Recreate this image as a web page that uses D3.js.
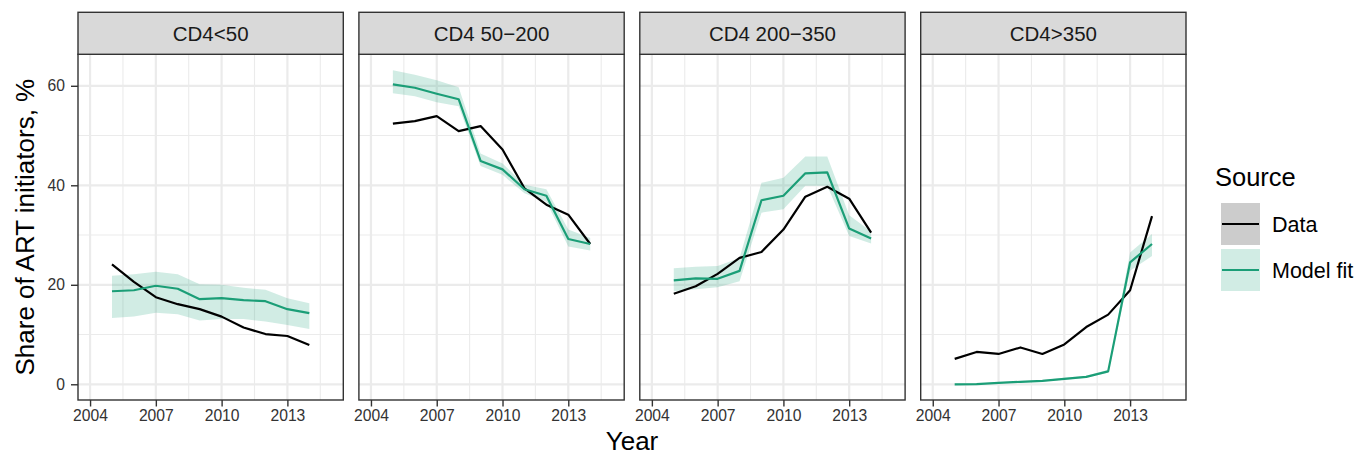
<!DOCTYPE html>
<html>
<head>
<meta charset="utf-8">
<script src="https://cdn.jsdelivr.net/npm/d3@7"></script>
<style>
  html, body { margin: 0; padding: 0; background: #ffffff; }
  svg { display: block; font-family: "Liberation Sans", Arial, sans-serif; }
</style>
</head>
<body>
<svg id="chart" width="1359" height="457"></svg>
<script>
// Share of ART initiators by CD4 category, observed data vs model fit (with uncertainty band)
const years = [2005, 2006, 2007, 2008, 2009, 2010, 2011, 2012, 2013, 2014];
const panelNames = ["CD4<50", "CD4 50\u2212200", "CD4 200\u2212350", "CD4>350"];
const xTicks = [2004, 2007, 2010, 2013];
const xMinor = [2005.5, 2008.5, 2011.5, 2014.5];
const yTicks = [0, 20, 40, 60];
const yMinor = [10, 30, 50];

// Observed share (%)
const dataLt50    = [24.1, 20.6, 17.5, 16.1, 15.1, 13.6, 11.4, 10.1, 9.7, 7.9];
const data50_200  = [52.4, 52.9, 53.9, 50.9, 51.9, 47.2, 39.4, 36.1, 34.1, 28.2];
const data200_350 = [18.2, 19.7, 22.2, 25.4, 26.6, 31.1, 37.7, 39.7, 37.3, 30.5];
const dataGt350   = [5.1, 6.5, 6.1, 7.4, 6.1, 8.0, 11.5, 14.0, 18.9, 33.8];

// Model fit (%), central estimate
const fitLt50    = [18.7, 18.9, 19.8, 19.2, 17.1, 17.3, 16.9, 16.7, 15.1, 14.3];
const fit50_200  = [60.3, 59.6, 58.4, 57.3, 44.9, 43.2, 39.2, 37.9, 29.2, 28.2];
const fit200_350 = [20.9, 21.3, 21.2, 22.8, 37.0, 37.9, 42.4, 42.6, 31.3, 29.3];
const fitGt350   = [0.0, 0.05, 0.3, 0.5, 0.7, 1.1, 1.5, 2.6, 24.5, 28.2];

// Model fit, lower bound of uncertainty band (%)
const lowLt50    = [13.3, 13.6, 14.4, 14.1, 12.8, 13.1, 13.1, 12.6, 11.9, 11.1];
const low50_200  = [58.5, 57.9, 56.7, 55.9, 43.9, 42.1, 38.4, 36.7, 27.7, 26.9];
const low200_350 = [18.7, 19.1, 19.5, 20.7, 34.5, 35.2, 39.9, 39.9, 29.8, 28.3];
const lowGt350   = [0.0, 0.0, 0.2, 0.35, 0.55, 0.9, 1.3, 2.3, 22.8, 25.8];

// Model fit, upper bound of uncertainty band (%)
const upLt50    = [21.8, 22.1, 22.6, 22.1, 20.1, 20.0, 19.4, 19.0, 17.3, 16.3];
const up50_200  = [63.1, 62.2, 61.1, 59.7, 46.4, 44.4, 40.1, 39.2, 31.1, 29.4];
const up200_350 = [23.3, 23.6, 23.8, 25.4, 40.5, 41.5, 45.8, 45.8, 34.0, 30.7];
const upGt350   = [0.1, 0.15, 0.4, 0.65, 0.85, 1.3, 1.7, 2.9, 26.5, 30.2];

const seriesNames = ["Data", "Model fit"];

const observed = [dataLt50, data50_200, data200_350, dataGt350];
const fitted   = [fitLt50, fit50_200, fit200_350, fitGt350];
const lower    = [lowLt50, low50_200, low200_350, lowGt350];
const upper    = [upLt50, up50_200, up200_350, upGt350];

// layout
const green = "#1b9e77";
const panelLeft = 78, panelW = 265.3, panelGap = 15.6;
const stripTop = 12.3, panelTop = 54.3, panelBottom = 400;

const svg = d3.select("#chart");

const y = d3.scaleLinear().domain([-3.16, 66.33]).range([panelBottom, panelTop]);

panelNames.forEach((name, i) => {
  const x0 = panelLeft + i * (panelW + panelGap);
  const x = d3.scaleLinear().domain([2003.45, 2015.55]).range([x0, x0 + panelW]);
  const g = svg.append("g");

  // panel background
  g.append("rect").attr("x", x0).attr("y", panelTop)
    .attr("width", panelW).attr("height", panelBottom - panelTop).attr("fill", "#ffffff");

  // grid
  const grid = g.append("g");
  grid.selectAll(".ymin").data(yMinor).join("line")
    .attr("x1", x0).attr("x2", x0 + panelW).attr("y1", d => y(d)).attr("y2", d => y(d))
    .attr("stroke", "#ebebeb").attr("stroke-width", 1.1);
  grid.selectAll(".xmin").data(xMinor).join("line")
    .attr("x1", d => x(d)).attr("x2", d => x(d)).attr("y1", panelTop).attr("y2", panelBottom)
    .attr("stroke", "#ebebeb").attr("stroke-width", 1.1);
  grid.selectAll(".ymaj").data(yTicks).join("line")
    .attr("x1", x0).attr("x2", x0 + panelW).attr("y1", d => y(d)).attr("y2", d => y(d))
    .attr("stroke", "#ebebeb").attr("stroke-width", 2.2);
  grid.selectAll(".xmaj").data(xTicks).join("line")
    .attr("x1", d => x(d)).attr("x2", d => x(d)).attr("y1", panelTop).attr("y2", panelBottom)
    .attr("stroke", "#ebebeb").attr("stroke-width", 2.2);

  const rows = years.map((yr, k) => ({ yr, obs: observed[i][k], fit: fitted[i][k], lo: lower[i][k], hi: upper[i][k] }));

  // uncertainty band
  g.append("path").datum(rows)
    .attr("d", d3.area().x(d => x(d.yr)).y0(d => y(d.lo)).y1(d => y(d.hi)))
    .attr("fill", green).attr("fill-opacity", 0.2);

  // observed line
  g.append("path").datum(rows)
    .attr("d", d3.line().x(d => x(d.yr)).y(d => y(d.obs)))
    .attr("fill", "none").attr("stroke", "#000000").attr("stroke-width", 2.2)
    .attr("stroke-linejoin", "round");

  // model fit line
  g.append("path").datum(rows)
    .attr("d", d3.line().x(d => x(d.yr)).y(d => y(d.fit)))
    .attr("fill", "none").attr("stroke", green).attr("stroke-width", 2.2)
    .attr("stroke-linejoin", "round");

  // panel border
  g.append("rect").attr("x", x0).attr("y", panelTop)
    .attr("width", panelW).attr("height", panelBottom - panelTop)
    .attr("fill", "none").attr("stroke", "#333333").attr("stroke-width", 1.4);

  // strip
  g.append("rect").attr("x", x0).attr("y", stripTop)
    .attr("width", panelW).attr("height", panelTop - stripTop)
    .attr("fill", "#d9d9d9").attr("stroke", "#333333").attr("stroke-width", 1.4);
  g.append("text").attr("x", x0 + panelW / 2).attr("y", 41)
    .attr("text-anchor", "middle").attr("font-size", "20.5px").attr("fill", "#1a1a1a")
    .text(name);

  // x axis
  const xAxis = g.append("g").attr("transform", `translate(0,${panelBottom})`)
    .call(d3.axisBottom(x).tickValues(xTicks).tickFormat(d3.format("d")).tickSize(6.5).tickPadding(3.5));
  xAxis.select(".domain").remove();
  xAxis.selectAll(".tick line").attr("stroke", "#333333").attr("stroke-width", 1.4);
  xAxis.selectAll(".tick text").attr("font-size", "15.7px").attr("fill", "#333333")
    .attr("font-family", "Liberation Sans, Arial, sans-serif");

  // y axis only on first panel
  if (i === 0) {
    const yAxis = g.append("g").attr("transform", `translate(${x0},0)`)
      .call(d3.axisLeft(y).tickValues(yTicks).tickSize(7).tickPadding(6));
    yAxis.select(".domain").remove();
    yAxis.selectAll(".tick line").attr("stroke", "#333333").attr("stroke-width", 1.4);
    yAxis.selectAll(".tick text").attr("font-size", "15.7px").attr("fill", "#333333")
      .attr("font-family", "Liberation Sans, Arial, sans-serif");
  }
});

// axis titles
svg.append("text")
  .attr("x", (panelLeft + panelLeft + 4 * panelW + 3 * panelGap) / 2).attr("y", 450)
  .attr("text-anchor", "middle").attr("font-size", "26px").attr("fill", "#000")
  .text("Year");
svg.append("text")
  .attr("transform", `translate(33.5,${(panelTop + panelBottom) / 2}) rotate(-90)`)
  .attr("text-anchor", "middle").attr("font-size", "26px").attr("fill", "#000")
  .text("Share of ART initiators, %");

// legend
const legend = svg.append("g");
legend.append("text").attr("x", 1215).attr("y", 186)
  .attr("font-size", "25.5px").attr("fill", "#000").text("Source");
const keyFills = ["#cccccc", "#d1ece4"];
const keyStrokes = ["#000000", green];
seriesNames.forEach((s, k) => {
  const top = 203 + k * 46;
  legend.append("rect").attr("x", 1221).attr("y", top).attr("width", 39).attr("height", 42)
    .attr("fill", keyFills[k]);
  legend.append("line").attr("x1", 1222).attr("x2", 1259)
    .attr("y1", top + 21).attr("y2", top + 21)
    .attr("stroke", keyStrokes[k]).attr("stroke-width", 2.2);
  legend.append("text").attr("x", 1272).attr("y", top + 21 + 7.5)
    .attr("font-size", "21.5px").attr("fill", "#000").text(s);
});
</script>
</body>
</html>
